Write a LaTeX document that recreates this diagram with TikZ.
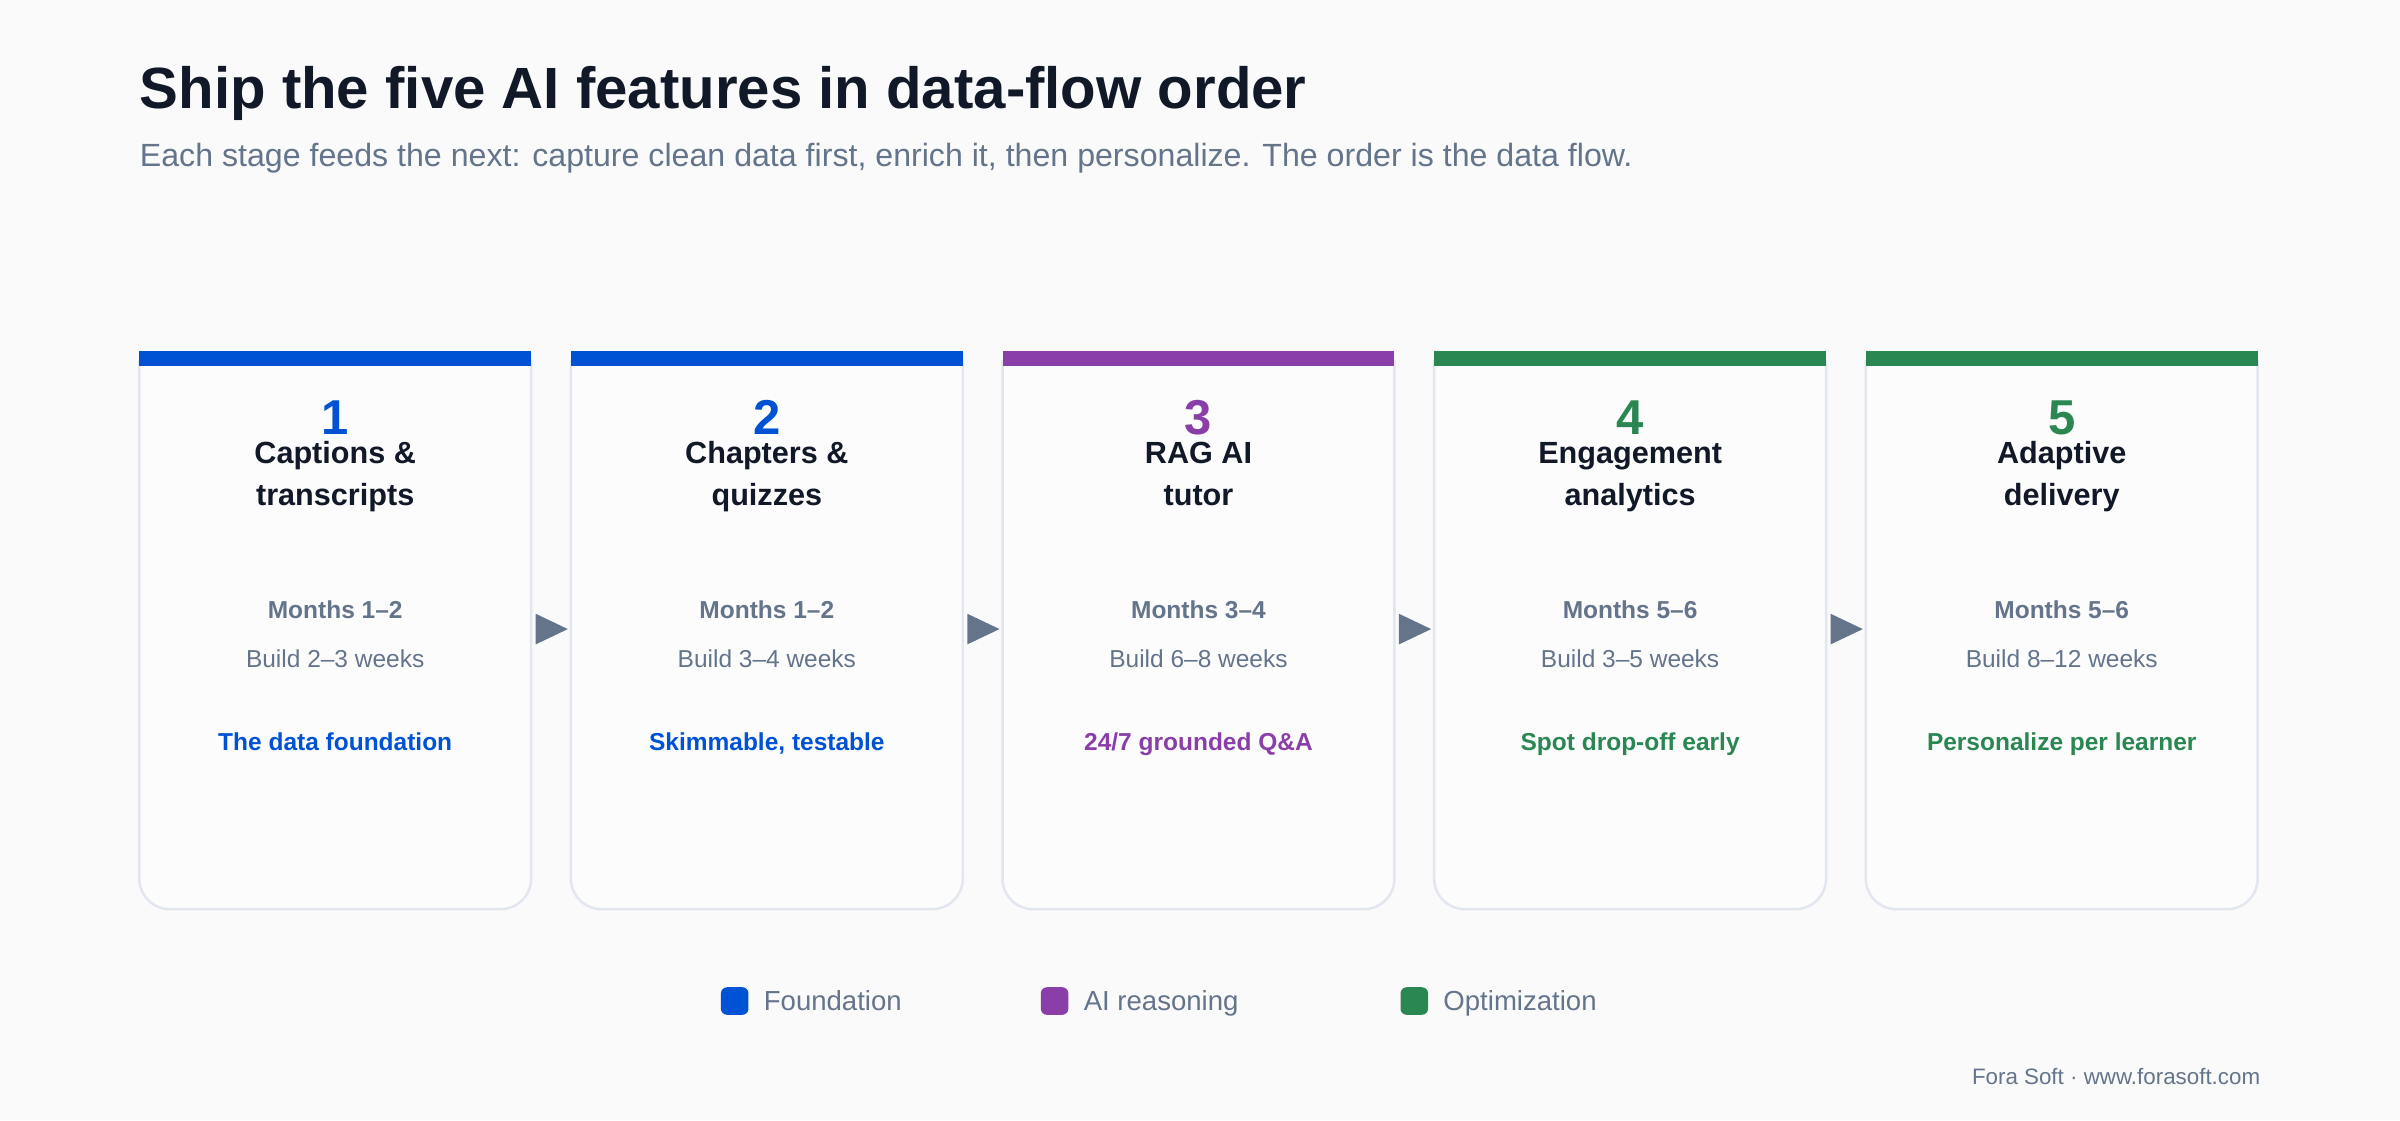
\documentclass[tikz,border=0pt]{standalone}
\usepackage{fontspec}
\setmainfont{Liberation Sans}
\begin{document}
\begin{tikzpicture}[x=0.5pt,y=-0.5pt]
\definecolor{bg}{HTML}{FAFAFB}
\definecolor{ink}{HTML}{111827}
\definecolor{slate}{HTML}{64748B}
\definecolor{edge}{HTML}{E2E6EE}
\definecolor{cblue}{HTML}{0052D4}
\definecolor{cpurp}{HTML}{8A3FA8}
\definecolor{cgreen}{HTML}{2A8751}
\tikzset{
 num/.style={font=\fontsize{16}{18}\selectfont\bfseries},
 ctitle/.style={font=\fontsize{10}{13.5}\selectfont\bfseries,text=ink,align=center},
 months/.style={font=\fontsize{8}{9}\selectfont\bfseries,text=slate,anchor=base},
 build/.style={font=\fontsize{8}{9}\selectfont,text=slate,anchor=base},
 tag/.style={font=\fontsize{8}{9}\selectfont\bfseries,anchor=base},
 arr/.style={fill=slate,draw=none},
 leg/.style={font=\fontsize{9}{10}\selectfont,text=slate,anchor=base west}
}
\fill[bg] (0,0) rectangle (1568,732);
\useasboundingbox (0,0) rectangle (1568,732);
\node[anchor=base west,inner sep=0,text=ink,font=\fontsize{19}{22}\selectfont\bfseries] (title) at (91,71) {Ship the five AI features in data-flow order};
\node[anchor=base west,inner sep=0,text=slate,font=\fontsize{10.5}{12}\selectfont] (sub) at (91,109) {Each stage feeds the next: capture clean data first, enrich it, then personalize. The order is the data flow.};
\foreach \i/\x/\c/\n/\ta/\tb/\m/\b/\t in {
 1/91/cblue/1/Captions \&/transcripts/Months 1–2/Build 2–3 weeks/The data foundation,
 2/373/cblue/2/Chapters \&/quizzes/Months 1–2/Build 3–4 weeks/{Skimmable, testable},
 3/655/cpurp/3/RAG AI/tutor/Months 3–4/Build 6–8 weeks/24\slash 7 grounded Q\&A,
 4/937/cgreen/4/Engagement/analytics/Months 5–6/Build 3–5 weeks/Spot drop-off early,
 5/1219/cgreen/5/Adaptive/delivery/Months 5–6/Build 8–12 weeks/Personalize per learner}{
 \draw[edge,fill=white!50!bg,line width=0.8pt,rounded corners=10] (\x,235) -- (\x,594) -- (\x+256,594) -- (\x+256,235);
 \fill[\c] (\x,229) rectangle (\x+256,239);
 \node[num,text=\c,anchor=base] (n\i) at (\x+128,284) {\n};
 \node[ctitle,anchor=base] (t\i) at (\x+128,330) {\ta\\\tb};
 \node[months] (m\i) at (\x+128,404) {\m};
 \node[build] (b\i) at (\x+128,436) {\b};
 \node[tag,text=\c] (g\i) at (\x+128,490) {\t};
}
\foreach \x in {350,632,914,1196}{
 \fill[arr] (\x,401) -- (\x,421) -- (\x+21,411) -- cycle;
}
\fill[cblue,rounded corners=2] (471,645) rectangle (489,663);
\node[leg] (l1) at (492,660) {Foundation};
\fill[cpurp,rounded corners=2] (680,645) rectangle (698,663);
\node[leg] (l2) at (701,660) {AI reasoning};
\fill[cgreen,rounded corners=2] (915,645) rectangle (933,663);
\node[leg] (l3) at (936,660) {Optimization};
\node[anchor=east,inner sep=0,text=slate,font=\fontsize{7.3}{9}\selectfont] (foot) at (1477,703) {Fora Soft · www.forasoft.com};
\end{tikzpicture}
\end{document}
